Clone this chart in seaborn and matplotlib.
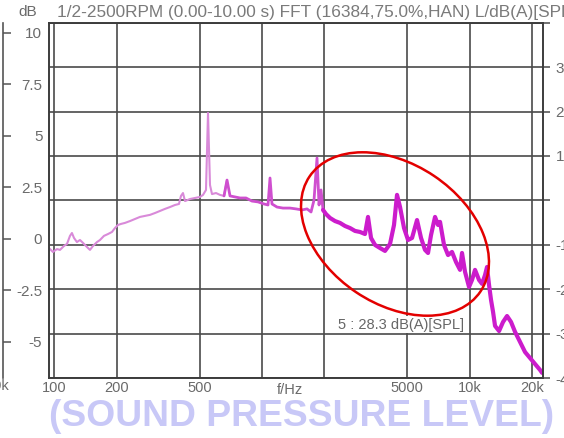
import numpy as np
import pandas as pd
import matplotlib
matplotlib.use("Agg")
import matplotlib.pyplot as plt
from matplotlib.patches import Ellipse
import seaborn as sns

# ---------------- data ----------------
freq_hz = [94.1, 98.3, 102.8, 106.3, 111.1, 114.9, 118.8, 121.4, 124.2, 128.3,
           132.7, 137.2, 143.4, 148.3, 153.3, 160.3, 165.7, 173.2, 181.1, 189.3,
           195.7, 202.3, 209.2, 218.7, 231.2, 244.3, 258.2, 273.0, 288.6, 305.0,
           322.4, 340.8, 360.2, 380.8, 398.1, 407.0, 416.2, 425.6, 449.8, 475.5,
           502.7, 519.7, 537.2, 549.3, 561.6, 574.2, 600.3, 627.6, 656.2, 678.4,
           701.3, 741.3, 783.6, 837.3, 894.8, 956.5, 1022, 1069, 1093, 1117,
           1181, 1262, 1364, 1458, 1559, 1648, 1723, 1781, 1841, 1883,
           1925, 1968, 2034, 2127, 2248, 2376, 2512, 2656, 2807, 2967,
           3136, 3242, 3352, 3504, 3704, 3915, 4139, 4326, 4473, 4626,
           4835, 5054, 5285, 5585, 5839, 6102, 6310, 6523, 6820, 7052,
           7209, 7535, 7878, 8234, 8608, 8999, 9201, 9514, 9945, 10280,
           10629, 11112, 11490, 11876, 12143, 12416, 12694, 12981, 13272, 13877,
           14502, 15162, 15849, 16570, 17516, 18515, 19571, 20687, 21871, 22360]
level_db = [-0.44, -0.63, -0.49, -0.53, -0.34, -0.24, 0.15, 0.29, 0.05, -0.15,
            -0.05, -0.19, -0.39, -0.53, -0.34, -0.15, -0.05, 0.15, 0.24, 0.34,
            0.53, 0.68, 0.73, 0.78, 0.87, 0.97, 1.07, 1.12, 1.17, 1.26,
            1.36, 1.46, 1.55, 1.65, 1.70, 2.09, 2.23, 1.84, 1.94, 1.99,
            2.04, 2.14, 2.38, 6.12, 2.62, 2.18, 2.23, 2.14, 2.09, 2.86,
            2.09, 2.04, 1.99, 1.99, 1.84, 1.80, 1.70, 1.65, 2.96, 1.70,
            1.55, 1.50, 1.50, 1.46, 1.41, 1.46, 1.31, 1.89, 3.93, 1.65,
            2.38, 1.41, 1.21, 1.02, 0.87, 0.78, 0.63, 0.53, 0.39, 0.34,
            0.24, 1.07, 0.05, -0.29, -0.44, -0.58, -0.24, 0.68, 2.14, 1.55,
            0.53, -0.05, 0.05, 0.92, 0.05, -0.53, -0.68, 0.19, 1.07, 0.68,
            0.83, -0.29, -0.78, -0.63, -1.12, -1.50, -0.68, -1.60, -2.33, -1.99,
            -1.50, -1.99, -2.18, -1.75, -1.36, -2.23, -2.96, -3.54, -4.22, -4.47,
            -4.03, -3.74, -4.03, -4.51, -5.00, -5.49, -5.78, -6.07, -6.36, -6.50]

x_ticks = [100, 200, 500, 1000, 2000, 5000, 10000, 20000]
x_tick_labels = ["100", "200", "500", "", "", "5000", "10k", "20k"]
left_ticks = [10, 7.5, 5, 2.5, 0, -2.5, -5]
left_tick_labels = ["10", "7.5", "5", "2.5", "0", "-2.5", "-5"]
right_ticks = [-4, -3, -2, -1, 0, 1, 2, 3, 4]
right_tick_labels = ["-4", "-3", "-2", "-1", "", "1", "2", "3", ""]

title_text = "1/2-2500RPM (0.00-10.00 s) FFT (16384,75.0%,HAN) L/dB(A)[SPL]"
unit_text = "dB"
xlabel_text = "f/Hz"
cursor_text = "5 : 28.3 dB(A)[SPL]"
caption_text = "(SOUND PRESSURE LEVEL)"

df = pd.DataFrame({"freq": freq_hz, "level": level_db})

# ---------------- styling ----------------
sns.set_theme(style="white")
plt.rcParams["font.family"] = ["Liberation Sans", "DejaVu Sans"]

W, H = 564, 438
fig = plt.figure(figsize=(W / 100, H / 100), dpi=100)

L, R, T, B = 48.6, 542.5, 22.7, 378.0
rect = [L / W, 1 - B / H, (R - L) / W, (B - T) / H]

# background grid axis (right-hand scale)
ax2 = fig.add_axes(rect)
ax = fig.add_axes(rect, sharex=None)
ax2.set_zorder(0)
ax.set_zorder(1)
ax.patch.set_visible(False)

grid_c = "#4a4a4a"
text_c = "#6a6a6a"

ax2.set_ylim(-4, 4)
ax2.set_xticks([])
ax2.yaxis.tick_right()
ax2.set_yticks(right_ticks)
ax2.set_yticklabels(right_tick_labels, fontsize=11, color=text_c)
ax2.tick_params(axis="y", direction="out", length=5, width=1.1, color=grid_c, pad=4.5)
ax2.grid(axis="y", color=grid_c, linewidth=1.2)
for s in ax2.spines.values():
    s.set_visible(False)

# main curve
ax.set_xscale("log")
low = df[df["freq"] <= 700]
mid = df[(df["freq"] >= 656) & (df["freq"] <= 2100)]
high = df[df["freq"] >= 1968]
sns.lineplot(data=low, x="freq", y="level", ax=ax, color="#d98ad9", linewidth=1.5, sort=False)
sns.lineplot(data=mid, x="freq", y="level", ax=ax, color="#cf4fcf", linewidth=2.0, sort=False)
sns.lineplot(data=high, x="freq", y="level", ax=ax, color="#cc1ccc", linewidth=3.0, sort=False)

ax.set_xlim(93.7, 22470)
ax.set_ylim(-6.75, 10.5)
ax.set_xticks(x_ticks)
ax.set_xticklabels(x_tick_labels, fontsize=10.5, color=text_c)
ax.xaxis.set_minor_locator(matplotlib.ticker.NullLocator())
ax.set_yticks(left_ticks)
ax.set_yticklabels(left_tick_labels, fontsize=11, color=text_c)
ax.tick_params(axis="x", length=0, pad=2)
ax.tick_params(axis="y", length=0, pad=4.5)
ax.grid(axis="x", color=grid_c, linewidth=1.2)
ax.grid(axis="y", visible=False)
ax.set_xlabel("")
ax.set_ylabel("")
for s in ax.spines.values():
    s.set_visible(True)
    s.set_color("#3c3c3c")
    s.set_linewidth(1.4)

# x-axis quantity label between ticks
ax.text(1365, -0.013, xlabel_text, transform=ax.get_xaxis_transform(),
        ha="center", va="top", fontsize=10.5, color=text_c)

# cursor readout
ax.text(2325, -4.17, cursor_text, ha="left", va="center", fontsize=10.5,
        color="#666666", zorder=5,
        bbox=dict(facecolor="white", edgecolor="none", pad=1.0))

# neighbouring panel's frame on the far left
axl = fig.add_axes([-0.02, rect[1], 0.02 + 2.5 / W, rect[3]])
axl.set_ylim(-6.75, 10.5)
axl.set_xticks([])
axl.yaxis.tick_right()
axl.set_yticks(left_ticks)
axl.set_yticklabels([])
axl.tick_params(axis="y", direction="out", length=6, width=1.1, color="#555555")
for k, s in axl.spines.items():
    s.set_visible(k == "right")
axl.spines["right"].set_color("#555555")
axl.spines["right"].set_linewidth(1.2)
fig.text(9 / W, 1 - 386 / H, "20k", ha="right", va="center", fontsize=10.5, color=text_c)

# header
fig.text(18 / W, 1 - 12 / H, unit_text, ha="left", va="center", fontsize=11, color=text_c)
fig.text(57 / W, 1 - 12 / H, title_text, ha="left", va="center", fontsize=12.4, color="#7a7a7a")

# red ellipse highlight
ell = Ellipse((395 / 100, (H - 234) / 100), 2.06, 1.40, angle=-33.9,
              transform=fig.dpi_scale_trans, fill=False, edgecolor="#e30000",
              linewidth=1.8, zorder=10, clip_on=False)
fig.add_artist(ell)

# caption
fig.text(302 / W, 1 - 416 / H, caption_text, ha="center", va="center",
         fontsize=26.8, fontweight="bold", color="#c8c8f7")

fig.savefig("out.png", dpi=100)
